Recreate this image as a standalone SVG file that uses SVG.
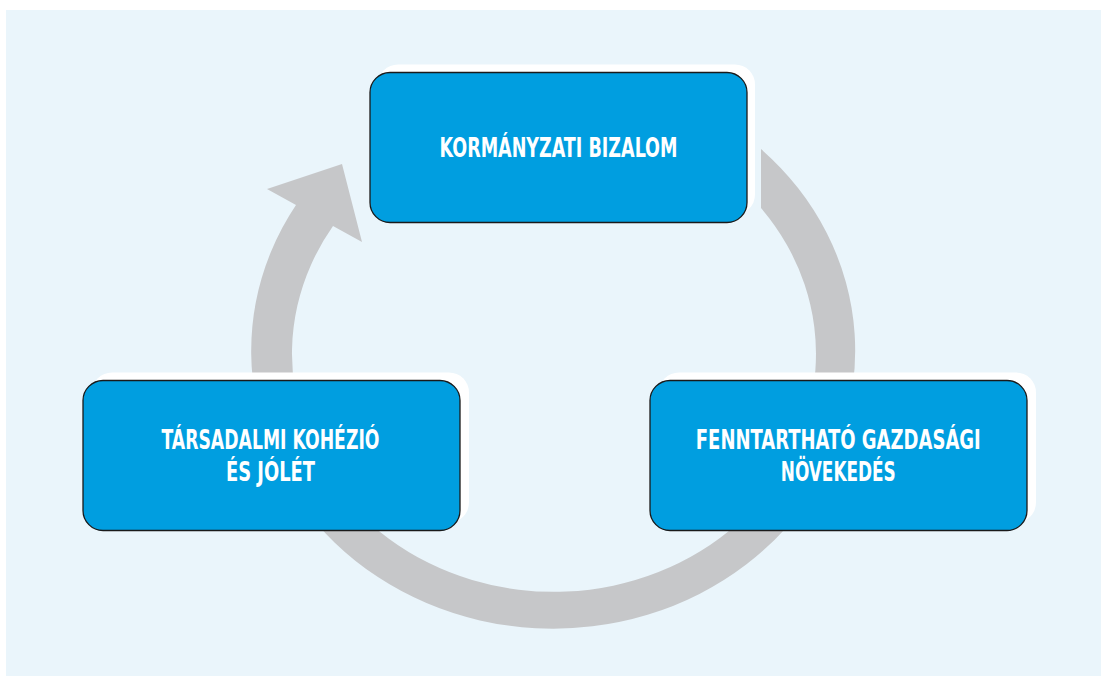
<svg xmlns="http://www.w3.org/2000/svg" width="1101" height="676" viewBox="0 0 1101 676">
<style>
.shadow{fill:#ffffff}
.box{fill:#009EE0;stroke:#1a1a1a;stroke-width:1.3}
.lbl{fill:#ffffff;font-family:"Liberation Sans Narrow","DejaVu Sans Condensed","Liberation Sans",sans-serif;font-weight:bold;font-size:26px;text-anchor:middle}
</style>
<rect x="0" y="0" width="1101" height="676" fill="#ffffff"/>
<rect x="6" y="10" width="1095" height="666" fill="#EAF5FB"/>
<g id="connectors">
<path d="M761 149 A302 278 0 1 1 296 205 L267 189 L342 164 L362 242 L333 226 A262 238 0 1 0 761 208 Z" fill="#C6C7C9"/>
</g>
<g id="node-top">
<rect class="shadow" x="378" y="64.5" width="377" height="150" rx="20"/>
<rect class="box" x="370" y="72.5" width="377" height="150" rx="20"/>
<text class="lbl" x="558.5" y="157" textLength="238" lengthAdjust="spacingAndGlyphs">KORMÁNYZATI BIZALOM</text>
</g>
<g id="node-left">
<rect class="shadow" x="92" y="372.5" width="377" height="150" rx="20"/>
<rect class="box" x="83" y="380.5" width="377" height="150" rx="20"/>
<text class="lbl" x="270.5" y="449.3" textLength="218" lengthAdjust="spacingAndGlyphs">TÁRSADALMI KOHÉZIÓ</text>
<text class="lbl" x="270.5" y="480.7" textLength="89" lengthAdjust="spacingAndGlyphs">ÉS JÓLÉT</text>
</g>
<g id="node-right">
<rect class="shadow" x="659" y="372.5" width="377" height="150" rx="20"/>
<rect class="box" x="650" y="380.5" width="377" height="150" rx="20"/>
<text class="lbl" x="838.3" y="449.3" textLength="285" lengthAdjust="spacingAndGlyphs">FENNTARTHATÓ GAZDASÁGI</text>
<text class="lbl" x="838.3" y="480.7" textLength="115" lengthAdjust="spacingAndGlyphs">NÖVEKEDÉS</text>
</g>
</svg>
